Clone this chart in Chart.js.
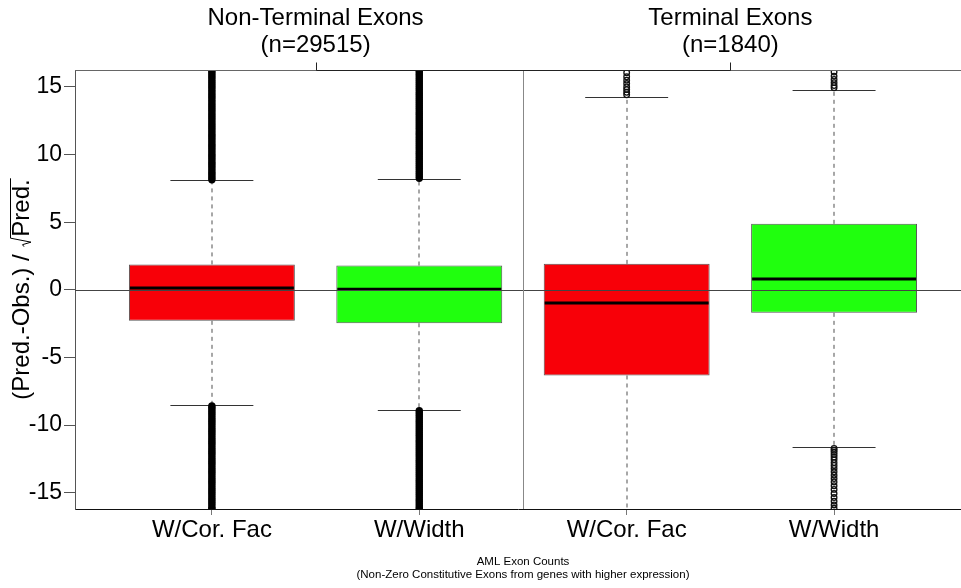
<!DOCTYPE html>
<html>
<head>
<meta charset="utf-8">
<script src="https://cdn.jsdelivr.net/npm/chart.js@4.4.1/dist/chart.umd.min.js"></script>
<style>
  html, body { margin: 0; padding: 0; background: #fff; }
  canvas { display: block; }
</style>
</head>
<body>
<canvas id="c" width="961" height="588"></canvas>
<script>
// ---- data ----
const categories = ['W/Cor. Fac', 'W/Width', 'W/Cor. Fac', 'W/Width'];
const positions = [1, 2, 3, 4];
const groupLabels = [['Non-Terminal Exons', '(n=29515)'], ['Terminal Exons', '(n=1840)']];
const groupPositions = [1.5, 3.5];
const yTicks = [-15, -10, -5, 0, 5, 10, 15];

// five-number summaries per box
const whiskerLow  = [-8.52, -8.87, -17.9, -11.65];
const q1          = [-2.29, -2.47, -6.33, -1.70];
const median      = [ 0.13,  0.05, -0.98,  0.81];
const q3          = [ 1.88,  1.80,  1.92,  4.88];
const whiskerHigh = [ 8.10,  8.20, 14.24, 14.76];

// outliers per box (values outside the whiskers)
const outliersNtCor = [
  8.14, 8.27, 8.41, 8.56, 8.7, 8.85, 9.01, 9.16, 9.3, 9.44, 9.6, 9.75, 9.89, 10.03, 10.18, 10.34,
  10.49, 10.63, 10.77, 10.92, 11.08, 11.23, 11.37, 11.51, 11.66, 11.82, 11.97, 12.11, 12.25, 12.4,
  12.56, 12.71, 12.85, 12.99, 13.14, 13.3, 13.45, 13.59, 13.73, 13.88, 14.04, 14.19, 14.33, 14.47,
  14.62, 14.78, 14.93, 15.07, 15.21, 15.36, 15.52, 15.67, 15.81, 15.95, 16.1, 16.24,
  -8.58, -8.71, -8.85, -9.0, -9.14, -9.29, -9.45, -9.6, -9.74, -9.88, -10.03, -10.19, -10.34,
  -10.48, -10.62, -10.77, -10.93, -11.08, -11.22, -11.36, -11.51, -11.67, -11.82, -11.96, -12.1,
  -12.25, -12.41, -12.56, -12.7, -12.84, -12.99, -13.15, -13.3, -13.44, -13.58, -13.73, -13.89,
  -14.04, -14.18, -14.32, -14.47, -14.63, -14.78, -14.92, -15.06, -15.21, -15.37, -15.52, -15.66,
  -15.8, -15.95, -16.11, -16.19
];
const outliersNtWidth = [
  8.24, 8.37, 8.52, 8.66, 8.81, 8.96, 9.1, 9.25, 9.39, 9.54, 9.69, 9.83, 9.98, 10.12, 10.27, 10.42,
  10.56, 10.71, 10.85, 11.0, 11.15, 11.29, 11.44, 11.58, 11.73, 11.88, 12.02, 12.17, 12.31, 12.46,
  12.61, 12.75, 12.9, 13.04, 13.19, 13.34, 13.48, 13.63, 13.77, 13.92, 14.07, 14.21, 14.36, 14.5,
  14.65, 14.8, 14.94, 15.09, 15.23, 15.38, 15.53, 15.67, 15.82, 15.96, 16.11, 16.24,
  -8.93, -9.06, -9.21, -9.35, -9.5, -9.65, -9.79, -9.94, -10.08, -10.23, -10.38, -10.52, -10.67,
  -10.81, -10.96, -11.11, -11.25, -11.4, -11.54, -11.69, -11.84, -11.98, -12.13, -12.27, -12.42,
  -12.57, -12.71, -12.86, -13.0, -13.15, -13.3, -13.44, -13.59, -13.73, -13.88, -14.03, -14.17,
  -14.32, -14.46, -14.61, -14.76, -14.9, -15.05, -15.19, -15.34, -15.49, -15.63, -15.78, -15.92,
  -16.07, -16.19
];
const outliersTCor = [14.42, 14.6, 14.8, 15.0, 15.25, 15.5, 15.75, 16.05];
const outliersTWidth = [
  14.93, 15.1, 15.32, 15.55, 15.8, 16.1,
  -11.72, -11.86, -12.0, -12.18, -12.36, -12.55, -12.77, -12.98, -13.2, -13.45, -13.7, -13.95,
  -14.2, -14.48, -14.75, -15.05, -15.35, -15.62, -15.9, -16.15
];
const outliers = [outliersNtCor, outliersNtWidth, outliersTCor, outliersTWidth];

const axisTitle = ['(Pred.-Obs.) / ', 'Pred.'];
const bottomTitle = ['AML Exon Counts', '(Non-Zero Constitutive Exons from genes with higher expression)'];

// ---- styling ----
const FONT = "'Liberation Sans', Arial, Helvetica, sans-serif";
const boxColors = ['rgb(248,0,8)', 'rgb(32,255,14)', 'rgb(248,0,8)', 'rgb(32,255,14)'];
const BOX_HALF = 0.4;
const CAP_HALF = 0.2;

// the non-terminal groups have thousands of outliers that merge into a solid column
const toPoints = idx => idx.flatMap(i => outliers[i].map(v => ({ x: positions[i], y: v })));
const denseOutlierPoints = toPoints([0, 1]);
const sparseOutlierPoints = toPoints([2, 3]);

const boxPlotExtras = {
  id: 'boxPlotExtras',
  beforeDatasetsDraw(chart) {
    const { ctx, chartArea: a, scales: { x, y } } = chart;
    ctx.save();
    ctx.beginPath();
    ctx.rect(a.left, a.top, a.right - a.left, a.bottom - a.top);
    ctx.clip();
    // dashed whiskers
    ctx.strokeStyle = '#8a8a8a';
    ctx.lineWidth = 1.5;
    ctx.setLineDash([4, 4]);
    positions.forEach((p, i) => {
      const px = Math.round(x.getPixelForValue(p));
      ctx.beginPath();
      ctx.moveTo(px, y.getPixelForValue(q3[i]));
      ctx.lineTo(px, y.getPixelForValue(whiskerHigh[i]));
      ctx.stroke();
      ctx.beginPath();
      ctx.moveTo(px, y.getPixelForValue(q1[i]));
      ctx.lineTo(px, y.getPixelForValue(whiskerLow[i]));
      ctx.stroke();
    });
    // whisker caps
    ctx.setLineDash([]);
    ctx.strokeStyle = '#333';
    ctx.lineWidth = 1;
    positions.forEach((p, i) => {
      const l = x.getPixelForValue(p - CAP_HALF);
      const r = x.getPixelForValue(p + CAP_HALF);
      [whiskerHigh[i], whiskerLow[i]].forEach(v => {
        const py = Math.round(y.getPixelForValue(v)) + 0.5;
        ctx.beginPath();
        ctx.moveTo(l, py);
        ctx.lineTo(r, py);
        ctx.stroke();
      });
    });
    ctx.restore();
  },
  afterDatasetsDraw(chart) {
    const { ctx, chartArea: a, scales: { x, y } } = chart;
    ctx.save();
    // medians
    ctx.strokeStyle = '#000';
    ctx.lineWidth = 3;
    positions.forEach((p, i) => {
      const py = y.getPixelForValue(median[i]);
      ctx.beginPath();
      ctx.moveTo(x.getPixelForValue(p - BOX_HALF) + 1, py);
      ctx.lineTo(x.getPixelForValue(p + BOX_HALF) - 1, py);
      ctx.stroke();
    });
    // reference line at zero
    ctx.strokeStyle = '#444';
    ctx.lineWidth = 1;
    const y0 = Math.round(y.getPixelForValue(0)) + 0.5;
    ctx.beginPath();
    ctx.moveTo(a.left, y0);
    ctx.lineTo(a.right, y0);
    ctx.stroke();
    // separator between the two exon groups
    const xs = Math.round(x.getPixelForValue(2.5)) + 0.5;
    ctx.strokeStyle = '#888';
    ctx.beginPath();
    ctx.moveTo(xs, a.top);
    ctx.lineTo(xs, a.bottom);
    ctx.stroke();
    ctx.restore();
  },
  afterDraw(chart) {
    const { ctx, chartArea: a, scales: { x, y } } = chart;
    ctx.save();
    // top frame
    const yt = a.top + 0.5;
    ctx.strokeStyle = '#666';
    ctx.lineWidth = 1;
    ctx.beginPath();
    ctx.moveTo(a.left, yt);
    ctx.lineTo(a.right, yt);
    ctx.stroke();
    // top axis with group ticks
    const g0 = Math.round(x.getPixelForValue(groupPositions[0])) + 0.5;
    const g1 = Math.round(x.getPixelForValue(groupPositions[groupPositions.length - 1])) + 0.5;
    ctx.strokeStyle = '#222';
    ctx.beginPath();
    ctx.moveTo(g0, yt);
    ctx.lineTo(g1, yt);
    groupPositions.forEach(g => {
      const gx = Math.round(x.getPixelForValue(g)) + 0.5;
      ctx.moveTo(gx, yt);
      ctx.lineTo(gx, yt - 8);
    });
    ctx.stroke();
    // group labels
    ctx.fillStyle = '#000';
    ctx.textAlign = 'center';
    ctx.textBaseline = 'middle';
    ctx.font = `24px ${FONT}`;
    groupPositions.forEach((g, i) => {
      const gx = x.getPixelForValue(g);
      ctx.fillText(groupLabels[i][0], gx, 18);
      ctx.fillText(groupLabels[i][1], gx, 45);
    });
    // bottom title
    ctx.font = `11.5px ${FONT}`;
    const cx = x.getPixelForValue(2.5);
    ctx.fillText(bottomTitle[0], cx, 562);
    ctx.fillText(bottomTitle[1], cx, 575);
    // y axis title with radical sign
    ctx.font = `24px ${FONT}`;
    ctx.translate(22, (a.top + a.bottom) / 2);
    ctx.rotate(-Math.PI / 2);
    ctx.textAlign = 'left';
    const w1 = ctx.measureText(axisTitle[0]).width;
    const w2 = ctx.measureText(axisTitle[1]).width;
    const rad = 11;
    const start = -(w1 + rad + w2) / 2;
    ctx.fillText(axisTitle[0], start, 0);
    ctx.fillText(axisTitle[1], start + w1 + rad, 0);
    const rx = start + w1;
    ctx.strokeStyle = '#000';
    ctx.lineWidth = 1;
    ctx.beginPath();
    ctx.moveTo(rx + 1, 2);
    ctx.lineTo(rx + 3, 0.5);
    ctx.lineTo(rx + 5.5, 9);
    ctx.lineTo(rx + 9.5, -11.5);
    ctx.lineTo(rx + rad + w2 + 1, -11.5);
    ctx.stroke();
    ctx.restore();
  }
};

new Chart(document.getElementById('c'), {
  type: 'bar',
  data: {
    datasets: [
      {
        type: 'bar',
        data: positions.map((p, i) => ({ x: p, y: [q1[i], q3[i]] })),
        backgroundColor: boxColors,
        borderColor: '#555',
        borderWidth: 1,
        borderSkipped: false,
        barPercentage: 0.8,
        categoryPercentage: 1,
        grouped: false,
        order: 3
      },
      {
        type: 'scatter',
        data: denseOutlierPoints,
        pointRadius: 2.6,
        pointBorderWidth: 2.2,
        pointBorderColor: '#000',
        pointBackgroundColor: '#000',
        showLine: false,
        clip: 0,
        order: 2
      },
      {
        type: 'scatter',
        data: sparseOutlierPoints,
        pointRadius: 2.8,
        pointBorderWidth: 1.3,
        pointBorderColor: '#111',
        pointBackgroundColor: 'rgba(0,0,0,0)',
        showLine: false,
        clip: 0,
        order: 1
      }
    ]
  },
  options: {
    responsive: false,
    animation: false,
    devicePixelRatio: 1,
    layout: { padding: { top: 70, left: 0, right: 0, bottom: 0 }, autoPadding: false },
    plugins: { legend: { display: false }, tooltip: { enabled: false } },
    scales: {
      x: {
        type: 'linear',
        min: 0.34,
        max: 4.612,
        offset: false,
        afterBuildTicks: s => { s.ticks = positions.map(v => ({ value: v })); },
        afterFit: s => { s.height = 79; },
        ticks: {
          callback: (v, i) => categories[i],
          font: { family: FONT, size: 24 },
          color: '#000',
          padding: 1,
          maxRotation: 0,
          autoSkip: false
        },
        grid: { offset: false, drawOnChartArea: false, drawTicks: true, tickLength: 6, tickColor: '#777' },
        border: { display: true, color: '#111', width: 1 }
      },
      y: {
        type: 'linear',
        min: -16.2,
        max: 16.25,
        afterBuildTicks: s => { s.ticks = yTicks.map(v => ({ value: v })); },
        afterFit: s => { s.width = 75; },
        ticks: { font: { family: FONT, size: 23 }, color: '#000', padding: 2 },
        grid: { drawOnChartArea: false, drawTicks: true, tickLength: 11, tickColor: '#555' },
        border: { display: true, color: '#555', width: 1 }
      }
    }
  },
  plugins: [boxPlotExtras]
});
</script>
</body>
</html>
